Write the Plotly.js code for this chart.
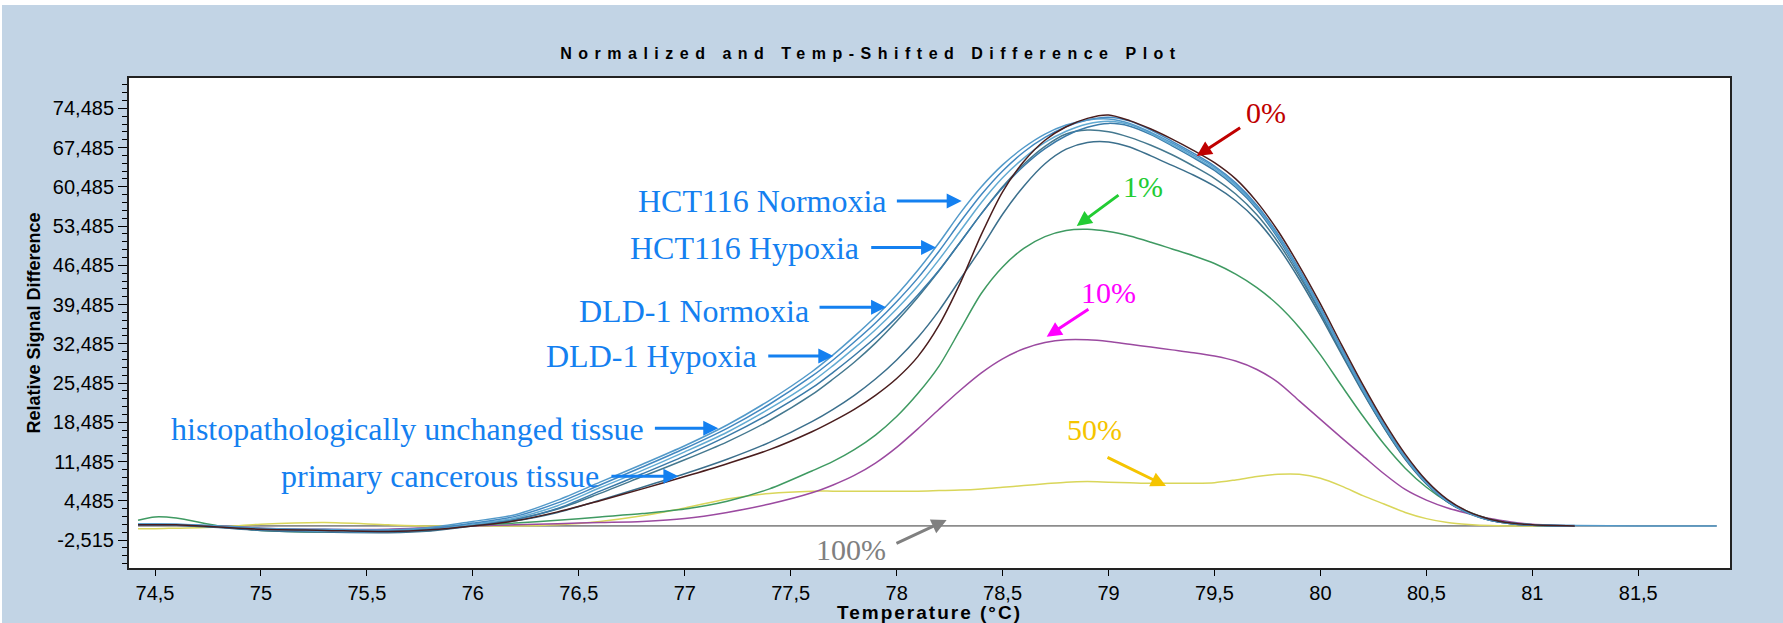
<!DOCTYPE html>
<html><head><meta charset="utf-8">
<script src="https://cdn.plot.ly/plotly-3.0.1.min.js"></script>
<style>
html,body{margin:0;padding:0;background:#fff;}
#chart{position:absolute;left:2px;top:5px;width:1781px;height:618px;}
.gtitle{letter-spacing:6.5px;}
.xtitle{letter-spacing:2px;}
</style></head><body><div id="chart"></div><script>
// ---- data: temperature (°C) grid and relative signal difference per sample ----
const tGrid = [74.42,74.5,74.6,74.8,75.0,75.3,75.6,75.8,
  76.0,76.2,76.4,76.6,76.8,77.0,77.2,77.4,
  77.6,77.7,77.8,77.9,78.0,78.1,78.2,78.3,78.4,78.5,
  78.6,78.7,78.8,78.9,79.0,79.1,79.2,79.3,79.4,79.5,
  79.6,79.7,79.8,79.9,80.0,80.1,80.2,80.3,80.4,80.5,
  80.6,80.7,80.8,80.9,81.0,
  81.2];
const tGridExt = tGrid.concat([81.5, 81.87]);

const sigTissueNormal = [0.3,0.3,0.3,0.0,-0.4,-0.6,-0.7,-0.3,
  0.8,2.0,4.6,7.8,11.0,14.3,18.0,22.4,
  27.5,30.5,33.8,37.3,41.2,45.6,50.5,55.8,60.5,64.4,
  67.5,69.9,71.5,72.4,72.6,71.8,70.2,68.3,66.2,64.0,
  61.0,57.0,51.8,45.6,38.8,31.5,24.5,18.0,12.3,7.8,
  4.5,2.4,1.1,0.5,0.2,
  0.05,0.0,0.0];
const sigHctNormoxia = [0.2,0.2,0.2,-0.1,-0.5,-0.7,-0.8,-0.5,
  0.5,1.7,4.1,7.3,10.5,13.8,17.4,21.7,
  26.7,29.6,32.8,36.2,40.0,44.2,49.0,54.2,59.1,63.3,
  66.7,69.3,71.2,72.4,72.9,72.2,70.6,68.6,66.5,64.2,
  61.2,57.2,52.0,45.8,39.0,31.7,24.7,18.1,12.4,7.9,
  4.5,2.4,1.1,0.5,0.2,
  0.05];
const sigHctHypoxia = [0.4,0.4,0.3,-0.1,-0.6,-0.9,-1.0,-0.6,
  0.3,1.4,3.6,6.8,9.9,13.2,16.7,20.9,
  25.7,28.6,31.7,35.0,38.7,42.8,47.5,52.6,57.7,62.1,
  65.6,68.4,70.4,71.7,72.2,71.6,70.0,68.0,65.9,63.7,
  60.7,56.8,51.6,45.4,38.6,31.3,24.3,17.9,12.2,7.7,
  4.4,2.3,1.1,0.5,0.2,
  0.0];
const sigDldNormoxia = [0.2,0.2,0.2,-0.2,-0.7,-1.0,-1.1,-0.7,
  0.1,1.1,3.1,6.2,9.3,12.5,16.0,20.0,
  24.6,27.4,30.4,33.6,37.2,41.2,45.6,50.6,55.7,60.3,
  64.2,67.3,69.6,71.1,71.8,71.3,69.8,67.8,65.7,63.4,
  60.4,56.5,51.3,45.1,38.3,31.1,24.1,17.7,12.1,7.6,
  4.3,2.3,1.0,0.4,0.1,
  0.0];
const sigDldHypoxia = [0.3,0.3,0.2,-0.2,-0.6,-0.9,-1.0,-0.8,
  0.2,1.2,3.0,5.8,8.8,11.8,15.0,18.8,
  23.4,26.2,29.2,32.6,36.5,40.8,45.5,50.6,55.7,60.5,
  64.5,67.7,69.9,70.6,70.3,69.3,67.9,66.2,64.2,62.0,
  59.2,55.5,50.6,44.6,38.0,30.9,24.0,17.6,12.0,7.6,
  4.3,2.3,1.0,0.4,0.1,
  0.0];
const sigTissueCancer = [0.2,0.2,0.1,-0.3,-0.8,-1.1,-1.2,-0.9,
  0.0,0.9,2.4,4.6,6.9,9.3,11.9,14.9,
  18.6,20.8,23.3,26.2,29.6,33.6,38.4,44.0,49.6,55.6,
  60.6,64.6,67.2,68.4,68.5,67.6,66.0,64.3,62.6,60.6,
  58.0,54.5,49.8,44.0,37.5,30.6,23.8,17.5,11.9,7.5,
  4.3,2.2,1.0,0.4,0.1,
  0.0];
const sig0pct = [0.2,0.2,0.2,-0.2,-0.6,-0.8,-1.0,-0.7,
  0.0,0.9,2.5,4.5,6.6,8.8,11.1,13.6,
  16.8,18.7,20.8,23.3,26.3,30.2,35.8,43.3,52.0,59.6,
  65.0,68.8,71.2,72.7,73.3,72.3,70.8,69.0,67.0,64.8,
  61.9,57.8,52.6,46.4,39.6,32.3,25.2,18.6,12.8,8.1,
  4.7,2.5,1.2,0.5,0.2,
  0.0];
const sig1pct = [1.0,1.6,1.4,0.0,-0.8,-1.1,-1.0,-0.5,
  0.1,0.5,1.0,1.6,2.2,3.0,4.4,6.6,
  9.8,11.5,13.6,16.2,19.5,23.6,28.5,35.0,41.5,46.2,
  49.5,51.6,52.7,52.9,52.5,51.7,50.6,49.4,48.2,46.8,
  44.9,42.5,39.4,35.4,30.5,25.0,19.6,14.6,10.3,6.9,
  4.3,2.5,1.2,0.5,0.2,
  0.0];
const sig10pct = [0.2,0.2,0.1,0.0,-0.4,-0.6,-0.6,-0.3,
  0.0,0.2,0.4,0.6,0.8,1.3,2.4,3.9,
  5.9,7.3,9.0,11.2,14.0,17.3,20.8,24.2,27.3,29.8,
  31.6,32.7,33.2,33.2,32.9,32.4,31.9,31.4,30.9,30.3,
  29.4,27.9,25.6,22.3,19.0,15.7,12.5,9.3,6.5,4.6,
  3.2,2.2,1.3,0.7,0.3,
  0.0];
const sig50pct = [-0.5,-0.5,-0.4,-0.2,0.3,0.6,0.2,0.0,
  0.0,0.0,0.2,0.8,1.8,3.2,4.8,5.8,
  6.2,6.2,6.2,6.2,6.2,6.2,6.3,6.4,6.6,6.9,
  7.2,7.5,7.8,7.9,7.8,7.7,7.6,7.6,7.6,7.7,
  8.2,8.8,9.2,9.2,8.5,7.1,5.4,3.9,2.4,1.3,
  0.6,0.25,0.05,0.0,0.0,
  0.0];
const t100pct = [74.42, 81.87];
const sig100pct = [0, 0];

// axis ticks
const xTickValues = [74.5,75,75.5,76,76.5,77,77.5,78,78.5,79,79.5,80,80.5,81,81.5];
const xTickLabels = ['74,5','75','75,5','76','76,5','77','77,5','78','78,5','79','79,5','80','80,5','81','81,5'];
const yTickValues = [-2.515,4.485,11.485,18.485,25.485,32.485,39.485,46.485,53.485,60.485,67.485,74.485];
const yTickLabels = ['-2,515','4,485','11,485','18,485','25,485','32,485','39,485','46,485','53,485','60,485','67,485','74,485'];

// ---- traces ----
function line(x, y, color, name, w) {
  return {x: x, y: y, type: 'scatter', mode: 'lines', name: name,
          line: {color: color, width: w || 1.5, shape: 'spline', smoothing: 0.8}, hoverinfo: 'x+y+name'};
}
const traces = [
  line(t100pct, sig100pct, '#8c8c8c', '100%', 1.8),
  line(tGrid, sig50pct, '#d9d65a', '50%'),
  line(tGrid, sig10pct, '#9b4aa0', '10%'),
  line(tGrid, sig1pct, '#3f9a62', '1%'),
  line(tGrid, sigTissueCancer, '#3b6f8c', 'primary cancerous tissue'),
  line(tGrid, sigDldHypoxia, '#44788f', 'DLD-1 Hypoxia'),
  line(tGrid, sigDldNormoxia, '#3a7aa8', 'DLD-1 Normoxia'),
  line(tGrid, sigHctHypoxia, '#62aad2', 'HCT116 Hypoxia'),
  line(tGrid, sigHctNormoxia, '#4288c0', 'HCT116 Normoxia'),
  line(tGridExt, sigTissueNormal, '#5299c9', 'histopathologically unchanged tissue'),
  line(tGrid, sig0pct, '#4a1d1d', '0%')
];

// ---- annotations ----
const blue = '#1480f0';
const serif = 'Liberation Serif, Times New Roman, serif';
function label(x, y, text, color, size) {
  return {x: x, y: y, xref: 'x', yref: 'y', text: text, showarrow: false,
          xanchor: 'center', yanchor: 'middle',
          font: {family: serif, size: size, color: color}};
}
function arrow(x, y, ax, ay, color) {
  return {x: x, y: y, ax: ax, ay: ay, xref: 'x', yref: 'y', axref: 'x', ayref: 'y',
          text: '', showarrow: true, arrowhead: 2, arrowsize: 1, arrowwidth: 3,
          arrowcolor: color, standoff: 0, startstandoff: 0};
}
const annotations = [
  label(77.369, 57.96, 'HCT116 Normoxia', blue, 32),
  arrow(78.307, 57.96, 77.994, 57.96, blue),
  label(77.280, 49.63, 'HCT116 Hypoxia', blue, 32),
  arrow(78.186, 49.65, 77.873, 49.65, blue),
  label(77.044, 38.33, 'DLD-1 Normoxia', blue, 32),
  arrow(77.950, 38.99, 77.629, 38.99, blue),
  label(76.844, 30.31, 'DLD-1 Hypoxia', blue, 32),
  arrow(77.701, 30.31, 77.387, 30.31, blue),
  label(75.693, 17.21, 'histopathologically unchanged tissue', blue, 32),
  arrow(77.158, 17.41, 76.852, 17.41, blue),
  label(75.843, 8.90, 'primary cancerous tissue', blue, 32),
  arrow(76.970, 8.85, 76.647, 8.85, blue),
  label(79.743, 73.71, '0%', '#c00000', 30),
  arrow(79.416, 65.98, 79.628, 71.21, '#c00000'),
  label(79.164, 60.63, '1%', '#22cc33', 30),
  arrow(78.850, 53.50, 79.054, 59.20, '#22cc33'),
  label(79.0, 41.65, '10%', '#ff00ff', 30),
  arrow(78.708, 33.75, 78.912, 38.82, '#ff00ff'),
  label(78.932, 17.21, '50%', '#f5c400', 30),
  arrow(79.271, 7.12, 78.988, 12.34, '#f5c400'),
  label(77.784, -4.19, '100%', '#808080', 30),
  arrow(78.236, 1.05, 77.992, -3.23, '#808080')
];

const sans = 'Liberation Sans, Arial, sans-serif';
const axisFont = {family: sans, size: 20, color: '#000'};
const layout = {
  width: 1781, height: 618,
  margin: {l: 127, r: 53, t: 73, b: 55, pad: 0},
  paper_bgcolor: '#c2d4e5', plot_bgcolor: '#ffffff',
  showlegend: false,
  title: {text: 'Normalized and Temp-Shifted Difference Plot', xref: 'container', yref: 'container',
          x: 0.4879, y: 0.9223, xanchor: 'center', yanchor: 'middle',
          font: {family: sans, size: 16, color: '#000', weight: 'bold'}},
  xaxis: {range: [74.3773, 81.9328], tickmode: 'array', tickvals: xTickValues, ticktext: xTickLabels,
          ticks: 'outside', ticklen: 6, tickwidth: 1, tickcolor: '#000',
          showline: true, linecolor: '#222', linewidth: 2, mirror: true,
          showgrid: false, zeroline: false, tickfont: axisFont,
          title: {text: 'Temperature (°C)', standoff: 2,
                  font: {family: sans, size: 19, color: '#000', weight: 'bold'}}},
  yaxis: {range: [-7.51, 79.897], tickmode: 'array', tickvals: yTickValues, ticktext: yTickLabels,
          ticks: 'outside', ticklen: 9, tickwidth: 1, tickcolor: '#000',
          minor: {dtick: 1.4, tick0: -2.515, ticks: 'outside', ticklen: 5, tickcolor: '#000', showgrid: false},
          showline: true, linecolor: '#222', linewidth: 2, mirror: true,
          showgrid: false, zeroline: false, tickfont: axisFont,
          title: {text: 'Relative Signal Difference', standoff: 8,
                  font: {family: sans, size: 18, color: '#000', weight: 'bold'}}},
  annotations: annotations
};
Plotly.newPlot('chart', traces, layout, {staticPlot: true, displayModeBar: false});
</script></body></html>
